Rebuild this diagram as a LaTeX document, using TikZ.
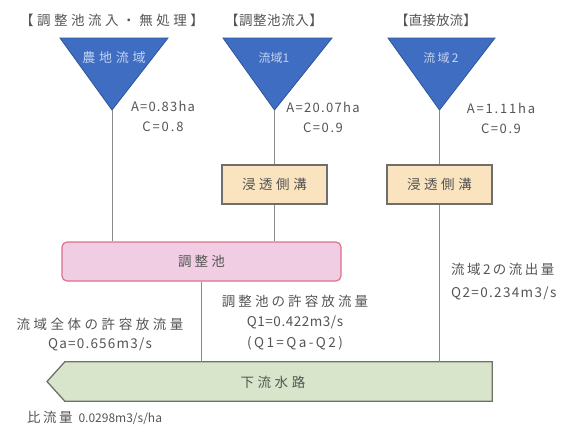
\documentclass[tikz,border=0pt]{standalone}
\usepackage{fontspec}
\setmainfont{Noto Sans CJK JP}
\definecolor{triblue}{HTML}{3F6DC2}
\definecolor{triedge}{HTML}{2F5597}
\definecolor{trilight}{HTML}{C4D4F0}
\definecolor{tanfill}{HTML}{FAE4C0}
\definecolor{boxedge}{HTML}{6E6E6E}
\definecolor{pinkfill}{HTML}{F1CDE4}
\definecolor{pinkedge}{HTML}{E07088}
\definecolor{greenfill}{HTML}{D8E5CA}
\definecolor{greenedge}{HTML}{6C7468}
\definecolor{linegray}{HTML}{8A8A8A}
\definecolor{txtgray}{HTML}{555555}
\newcommand{\ls}[2]{{\addfontfeatures{LetterSpace=#1}#2}}
\tikzset{
  txt/.style={text=txtgray, inner sep=0pt, font=\fontsize{13.5}{20}\selectfont},
  tri/.style={fill=triblue, draw=triedge, line width=0.8pt},
  tritxt/.style={text=trilight, inner sep=0pt},
  conn/.style={draw=linegray, line width=1pt},
  trench/.style={draw=boxedge, fill=tanfill, line width=1.3pt, minimum width=105pt, minimum height=39pt, inner sep=0pt, text=txtgray, font=\fontsize{13.5}{15}\selectfont\addfontfeatures{LetterSpace=26}},
  pondbox/.style={draw=pinkedge, fill=pinkfill, rounded corners=5pt, line width=1.2pt, minimum width=279pt, minimum height=39pt, inner sep=0pt, text=txtgray, font=\fontsize{13.5}{15}\selectfont\addfontfeatures{LetterSpace=23}},
  riverbox/.style={draw=greenedge, fill=greenfill, line width=1.3pt},
}
\begin{document}
\begin{tikzpicture}[x=1pt,y=-1pt]
\useasboundingbox[fill=white] (0,0) rectangle (564,429);
% headers
\node[txt] (h1) at (112,20) {\ls{26}{【調整池流入・無処理】}};
\node[txt] (h2) at (274,20) {\ls{4}{【調整池流入】}};
\node[txt] (h3) at (436,20) {\ls{1}{【直接放流】}};
% triangles
\coordinate (t1a) at (112,110); \coordinate (t1l) at (60,38); \coordinate (t1r) at (168,38);
\coordinate (t2a) at (274.5,110); \coordinate (t2l) at (223,38); \coordinate (t2r) at (332,38);
\coordinate (t3a) at (439.5,110); \coordinate (t3l) at (388,38); \coordinate (t3r) at (495,38);
\draw[tri] (t1l) -- (t1r) -- (t1a) -- cycle;
\draw[tri] (t2l) -- (t2r) -- (t2a) -- cycle;
\draw[tri] (t3l) -- (t3r) -- (t3a) -- cycle;
\node[tritxt, font=\fontsize{13}{14}\selectfont] (t1t) at (114,58) {\ls{29}{農地流域}};
\node[tritxt, font=\fontsize{12}{14}\selectfont] (t2t) at (274,58) {流域1};
\node[tritxt, font=\fontsize{12}{14}\selectfont] (t3t) at (441,58) {\ls{19}{流域2}};
% A, C labels
\node[txt, align=center, font=\fontsize{13}{20}\selectfont] (a1) at (163,116) {\ls{9}{A=0.83ha}\\\ls{15}{C=0.8}};
\node[txt, align=center, font=\fontsize{13}{20}\selectfont] (a2) at (323,117.5) {\ls{10}{A=20.07ha}\\\ls{12}{C=0.9}};
\node[txt, align=center, font=\fontsize{13}{20}\selectfont] (a3) at (501,118) {\ls{14}{A=1.11ha}\\\ls{12}{C=0.9}};
% boxes
\node[trench] (tr1) at (274.5,184.5) {浸透側溝};
\node[trench] (tr2) at (439.5,184.5) {浸透側溝};
\node[pondbox] (pond) at (201.5,261.5) {調整池};
% river
\node[minimum width=427pt, minimum height=39pt, inner sep=0pt] (river) at (278.5,381.5) {};
\coordinate (rtip) at (47,381.5);
\draw[riverbox] (river.north west) -- (river.north east) -- (river.south east) -- (river.south west) -- (rtip) -- cycle;
\node[txt] (riverlbl) at (273,382) {\ls{26}{下流水路}};
% connectors
\draw[conn] (t1a) -- (t1a |- pond.north);
\draw[conn] (t2a) -- (tr1.north);
\draw[conn] (tr1.south) -- (tr1.south |- pond.north);
\draw[conn] (t3a) -- (tr2.north);
\draw[conn] (tr2.south) -- (tr2.south |- river.north);
\draw[conn] (pond.south) -- (pond.south |- river.north);
% flow labels
\node[txt, anchor=west, align=left, font=\fontsize{13.5}{23}\selectfont] (q2) at (451,281.5) {\ls{18}{流域2の流出量}\\\ls{10}{Q2=0.234m3/s}};
\node[txt, align=center, font=\fontsize{13.5}{20.5}\selectfont] (q1) at (295,322.5) {\ls{23}{調整池の許容放流量}\\\ls{4}{Q1=0.422m3/s}\\\ls{18}{(Q1=Qa-Q2)}};
\node[txt, align=center, font=\fontsize{13.5}{19.5}\selectfont] (qa) at (100,334.5) {\ls{26}{流域全体の許容放流量}\\\ls{9}{Qa=0.656m3/s}};
\node[txt, anchor=west] (hr) at (27,418) {\ls{18}{比流量}\hspace{6pt}{\fontsize{12}{14}\selectfont 0.0298m3/s/ha}};
\end{tikzpicture}
\end{document}
